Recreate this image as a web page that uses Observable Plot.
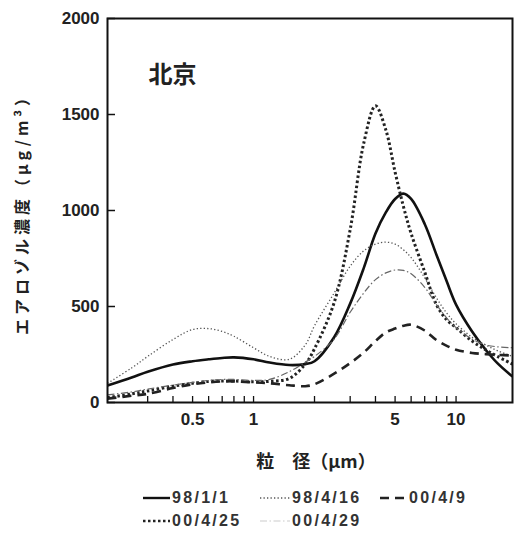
<!DOCTYPE html>
<html>
<head>
<meta charset="utf-8">
<script src="https://cdn.jsdelivr.net/npm/d3@7"></script>
<script src="https://cdn.jsdelivr.net/npm/@observablehq/plot@0.6"></script>
<style>
  html, body { margin: 0; padding: 0; background: #fff; }
  #wrap { position: relative; width: 515px; height: 535px; overflow: hidden; }
  #legend { position: absolute; top: 486px; left: 143px; display: grid;
    grid-template-columns: 117px 120px 110px; grid-auto-rows: 23px;
    font: bold 16px "Liberation Sans", Arial, sans-serif; letter-spacing: 2.3px; color: #333; }
  #legend .item { display: flex; align-items: center; white-space: nowrap; }
  #legend svg { flex: none; }
</style>
</head>
<body>
<div id="wrap"><div id="chart"></div><div id="legend"></div></div>
<script>
// particle size (μm)
const sizes = [0.19,0.25,0.3,0.4,0.5,0.6,0.7,0.8,1,1.2,1.5,1.8,2,2.5,3,3.5,4,4.5,5,5.5,6,7,8,9,10,12,14,16,19];
// aerosol concentration (μg/m³) per series
const c980101 = [88,130,160,198,215,225,232,235,225,208,195,200,215,340,515,700,880,990,1060,1088,1060,930,770,630,510,370,275,205,135];
const c980416 = [100,180,240,328,380,385,370,345,285,240,225,300,400,570,710,790,825,835,825,795,755,650,545,465,410,340,300,270,240];
const c000409 = [20,35,45,75,95,105,110,110,105,100,90,85,95,150,205,260,320,365,385,400,405,375,325,295,275,258,252,248,245];
const c000425 = [25,45,60,85,100,110,112,112,108,110,125,200,280,520,900,1350,1545,1420,1200,1020,880,680,510,430,390,320,275,240,200];
const c000429 = [40,55,70,90,105,115,120,120,115,120,160,210,240,330,470,570,640,675,690,688,670,600,510,440,390,330,300,290,285];

const seriesNames = ["98/1/1","98/4/16","00/4/9","00/4/25","00/4/29"];
const seriesValues = [c980101, c980416, c000409, c000425, c000429];

const yTicks = [0,500,1000,1500,2000];
const xTickLabels = [0.5,1,5,10];
const xMinorTicks = [0.3,0.4,0.5,0.6,0.7,0.8,0.9,1,2,3,4,5,6,7,8,9,10];

const styles = [
  {stroke: "#111", strokeWidth: 2.6, strokeDasharray: null},
  {stroke: "#555", strokeWidth: 1.3, strokeDasharray: "1.3,2.2"},
  {stroke: "#222", strokeWidth: 2.6, strokeDasharray: "9,6"},
  {stroke: "#222", strokeWidth: 3, strokeDasharray: "2.5,2.5"},
  {stroke: "#666", strokeWidth: 1.2, strokeDasharray: "7,2.5,1.5,2.5"}
];

const rows = seriesNames.flatMap((name, i) => sizes.map((s, j) => ({series: name, size: s, value: seriesValues[i][j]})));

const W = 515, H = 475, mL = 107, mR = 3, mT = 18, mB = 73;
const plotW = W - mL - mR, plotH = H - mT - mB;

const lineMarks = seriesNames.map((name, i) =>
  Plot.line(rows.filter(d => d.series === name), {
    x: "size", y: "value", curve: "catmull-rom",
    stroke: styles[i].stroke, strokeWidth: styles[i].strokeWidth,
    strokeDasharray: styles[i].strokeDasharray, strokeLinecap: "butt", clip: true
  })
);

const chart = Plot.plot({
  width: W, height: H,
  marginLeft: mL, marginRight: mR, marginTop: mT, marginBottom: mB,
  style: {fontFamily: "'Liberation Sans', Arial, sans-serif", fontSize: "17px", fontWeight: "bold", color: "#222", background: "#fff"},
  x: {type: "log", domain: [0.19, 19], axis: null},
  y: {domain: [0, 2000], axis: null},
  marks: [
    ...lineMarks,
    Plot.ruleY(yTicks, {stroke: "#111", strokeWidth: 1.5, insetRight: plotW - 8}),
    Plot.ruleX(xMinorTicks, {stroke: "#111", strokeWidth: 1.3, insetTop: plotH - 6}),
    Plot.frame({stroke: "#111", strokeWidth: 2}),
    Plot.axisY({ticks: yTicks, tickFormat: d => String(d), tickSize: 0, tickPadding: 8, label: null, fill: "#222"}),
    Plot.axisX({ticks: xTickLabels, tickFormat: d => String(d), tickSize: 0, tickPadding: 10, label: null, fill: "#222"}),
    Plot.text(["北京"], {frameAnchor: "top-left", dx: 65, dy: 57, textAnchor: "middle", lineAnchor: "middle",
      fontSize: 24, fontWeight: "bold", fontFamily: "'Noto Sans CJK JP', sans-serif", fill: "#222"}),
    Plot.text(["エアロゾル濃度（μg/m³）"], {frameAnchor: "left", dx: -85, rotate: -90, textAnchor: "middle", lineAnchor: "middle",
      fontSize: 16, fontWeight: "bold", fontFamily: "'Noto Sans CJK JP', sans-serif", fill: "#222"}),
    Plot.text(["粒　径（μm）"], {frameAnchor: "bottom", dx: 6, dy: 60, textAnchor: "middle", lineAnchor: "middle",
      fontSize: 18, fontWeight: "bold", fontFamily: "'Noto Sans CJK JP', sans-serif", fill: "#222"})
  ]
});
// spacing for rotated y title
chart.querySelectorAll("text").forEach(t => {
  if (t.textContent.startsWith("エアロゾル")) t.setAttribute("letter-spacing", "4px");
});
document.getElementById("chart").appendChild(chart);

// legend
const legend = document.getElementById("legend");
seriesNames.forEach((name, i) => {
  const item = document.createElement("div");
  item.className = "item";
  const sw = i === 1 || i === 4 ? 30 : 27;
  const ns = "http://www.w3.org/2000/svg";
  const svg = document.createElementNS(ns, "svg");
  svg.setAttribute("width", sw + 2);
  svg.setAttribute("height", 10);
  const ln = document.createElementNS(ns, "line");
  ln.setAttribute("x1", 0); ln.setAttribute("x2", sw);
  ln.setAttribute("y1", 5); ln.setAttribute("y2", 5);
  ln.setAttribute("stroke", i === 4 ? "#ccc" : styles[i].stroke);
  ln.setAttribute("stroke-width", Math.min(styles[i].strokeWidth, 2.4));
  if (styles[i].strokeDasharray) ln.setAttribute("stroke-dasharray", styles[i].strokeDasharray);
  svg.appendChild(ln);
  item.appendChild(svg);
  const span = document.createElement("span");
  span.textContent = name;
  item.appendChild(span);
  legend.appendChild(item);
});
</script>
</body>
</html>
